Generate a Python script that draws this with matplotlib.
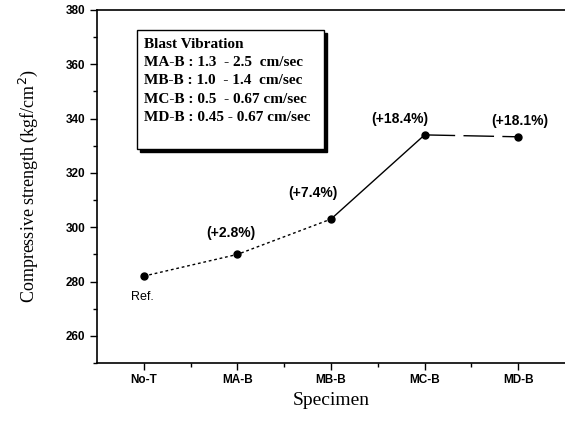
import matplotlib
matplotlib.use("Agg")
import matplotlib.pyplot as plt
from matplotlib.patches import Rectangle

specimens = ["No-T", "MA-B", "MB-B", "MC-B", "MD-B"]
strength = [282.0, 290.0, 303.0, 334.0, 333.3]
gains = ["Ref.", "(+2.8%)", "(+7.4%)", "(+18.4%)", "(+18.1%)"]
box_lines = ["Blast Vibration",
             "MA-B : 1.3  - 2.5  cm/sec",
             "MB-B : 1.0  - 1.4  cm/sec",
             "MC-B : 0.5  - 0.67 cm/sec",
             "MD-B : 0.45 - 0.67 cm/sec"]

fig = plt.figure(figsize=(5.65, 4.23), dpi=100)
ax = fig.add_axes([0.1717, 0.1418, 0.8283, 0.8346])

x = list(range(len(specimens)))
# dotted part, then solid part
ax.plot(x[:3], strength[:3], color="black", lw=1.0, ls=(0, (2, 2)))
ax.plot(x[2:4], strength[2:4], color="black", lw=1.0)
ax.plot(x[3:], strength[3:], color="black", lw=1.0, ls=(0, (22, 6)))
ax.plot(x, strength, ls="none", marker="o", ms=5, color="black")

sans = ["Liberation Sans", "DejaVu Sans"]
serif = ["Liberation Serif", "DejaVu Serif"]

# percentage labels
offsets = [(-0.02, -7.7), (-0.07, 7.7), (-0.19, 9.6), (-0.27, 6), (0.02, 6)]
for i, lab in enumerate(gains):
    dx, dy = offsets[i]
    ax.text(x[i] + dx, strength[i] + dy, lab, ha="center", va="center",
            fontsize=10 if i else 9, family=sans,
            fontweight="normal" if i == 0 else "bold")

ax.set_xlim(-0.5, 4.5)
ax.set_ylim(250, 380)
ax.set_xticks(x)
ax.set_xticklabels(specimens, family=sans, fontsize=8.5, fontweight="bold")
ax.set_xticks([i + 0.5 for i in x[:-1]], minor=True)
ax.set_yticks(range(260, 381, 20))
ax.set_yticklabels([str(v) for v in range(260, 381, 20)], family=sans,
                   fontsize=8.5, fontweight="bold")
ax.set_yticks(range(250, 380, 20), minor=True)
ax.tick_params(which="major", direction="out", length=5, width=1)
ax.tick_params(which="minor", direction="out", length=3, width=1)
ax.tick_params(axis="x", pad=3)
ax.spines["right"].set_visible(False)
for s in ["left", "bottom", "top"]:
    ax.spines[s].set_linewidth(1.2)

ax.set_ylabel("Compressive strength (kgf/cm$^2$)", family=serif,
              fontsize=13, labelpad=18)
ax.set_xlabel("Specimen", family=serif, fontsize=14, labelpad=4)

# legend-like box with shadow
bx, by, bw, bh = 0.085, 0.607, 0.40, 0.335
ax.add_patch(Rectangle((bx + 0.006, by - 0.008), bw, bh,
                       transform=ax.transAxes, facecolor="black",
                       edgecolor="black", zorder=4))
ax.add_patch(Rectangle((bx, by), bw, bh, transform=ax.transAxes,
                       facecolor="white", edgecolor="black", lw=1.0,
                       zorder=5))
for k, line in enumerate(box_lines):
    ax.text(bx + 0.016, by + bh - 0.04 - k * 0.0515, line,
            transform=ax.transAxes, family=serif, fontsize=11,
            fontweight="bold", va="center", ha="left", zorder=6)

fig.savefig("out.png", dpi=100)
